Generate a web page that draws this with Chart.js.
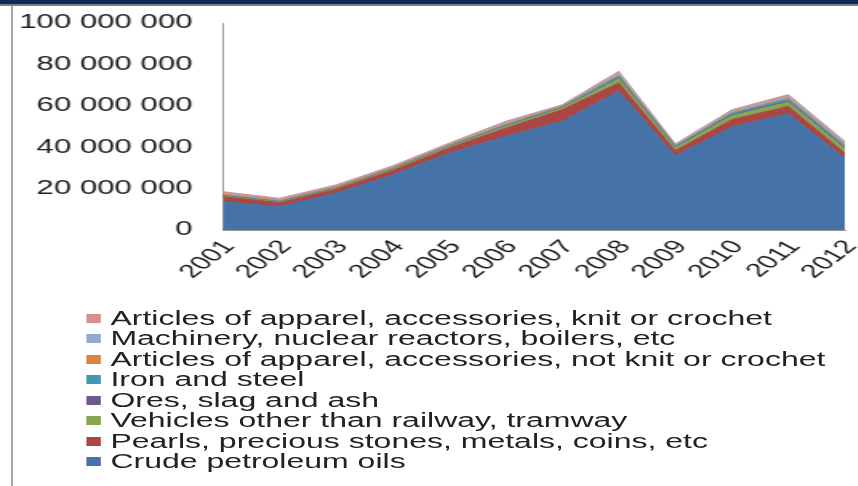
<!DOCTYPE html>
<html>
<head>
<meta charset="utf-8">
<script src="https://cdn.jsdelivr.net/npm/chart.js@4"></script>
<style>
  html, body { margin: 0; padding: 0; background: #fff; }
  body { width: 858px; height: 486px; position: relative; overflow: hidden;
         font-family: "Liberation Sans", Arial, sans-serif; }
  #barraTopo { position: absolute; left: 0; top: 0; width: 858px; height: 4px; background: #0c2a5c; }
  #linhaTopo { position: absolute; left: 0; top: 4px; width: 858px; height: 2px; background: #7d7d7d; }
  #linhaEsq { position: absolute; left: 11px; top: 6px; width: 2px; height: 480px; background: #a6a6a6; }
  /* the whole chart is drawn narrow and stretched sideways */
  #esticado { position: absolute; left: 0; top: 0; width: 536.25px; height: 486px;
              transform: scaleX(1.6); transform-origin: 0 0; }
  #grafico { position: absolute; left: 0; top: 0; }
  #legenda { position: absolute; left: 54px; top: 308px; font-size: 20px; color: #222; }
  .item { display: flex; align-items: center; height: 20.5px; white-space: nowrap; }
  .caixa { width: 9.4px; height: 9px; margin-right: 5.6px; flex: none; }
</style>
</head>
<body>
<div id="barraTopo"></div>
<div id="linhaTopo"></div>
<div id="linhaEsq"></div>
<div id="esticado">
  <canvas id="grafico" width="536" height="290" style="width:536px;height:290px"></canvas>
  <div id="legenda"></div>
</div>
<script>
const anos = ["2001", "2002", "2003", "2004", "2005", "2006", "2007", "2008", "2009", "2010", "2011", "2012"];

const petroleo = [13700000, 11300000, 17800000, 26600000, 37100000, 45200000, 52500000, 67000000, 35800000, 49700000, 56200000, 34700000];
const perolas = [2400000, 1900000, 1900000, 2100000, 2500000, 4000000, 5600000, 4000000, 2500000, 3600000, 3500000, 2400000];
const veiculos = [300000, 300000, 400000, 500000, 600000, 800000, 800000, 2000000, 1300000, 1900000, 2000000, 2000000];
const minerios = [100000, 100000, 100000, 100000, 100000, 200000, 200000, 400000, 300000, 400000, 500000, 500000];
const ferroAco = [300000, 300000, 300000, 400000, 400000, 500000, 400000, 1000000, 500000, 800000, 1000000, 1000000];
const vestuarioNaoMalha = [500000, 400000, 400000, 400000, 400000, 500000, 300000, 500000, 300000, 400000, 500000, 500000];
const maquinas = [300000, 300000, 300000, 300000, 300000, 500000, 300000, 800000, 400000, 600000, 800000, 800000];
const vestuarioMalha = [900000, 700000, 600000, 600000, 600000, 800000, 400000, 1000000, 500000, 700000, 900000, 900000];

const ticksY = [0, 20000000, 40000000, 60000000, 80000000, 100000000];

function formatarMilhar(v) {
  return String(v).replace(/\B(?=(\d{3})+(?!\d))/g, " ");
}

// from the bottom of the stack to the top
const series = [
  { label: "Crude petroleum oils", data: petroleo, cor: "#4572A7" },
  { label: "Pearls, precious stones, metals, coins, etc", data: perolas, cor: "#AA4643" },
  { label: "Vehicles other than railway, tramway", data: veiculos, cor: "#89A54E" },
  { label: "Ores, slag and ash", data: minerios, cor: "#71588F" },
  { label: "Iron and steel", data: ferroAco, cor: "#4198AF" },
  { label: "Articles of apparel, accessories, not knit or crochet", data: vestuarioNaoMalha, cor: "#DB843D" },
  { label: "Machinery, nuclear reactors, boilers, etc", data: maquinas, cor: "#93A9CF" },
  { label: "Articles of apparel, accessories, knit or crochet", data: vestuarioMalha, cor: "#D19392" }
];

const grafico = new Chart(document.getElementById("grafico"), {
  type: "line",
  data: {
    labels: anos,
    datasets: series.map((s, i) => ({
      label: s.label,
      data: s.data,
      borderColor: s.cor,
      backgroundColor: s.cor,
      borderWidth: 1,
      pointRadius: 0,
      tension: 0,
      fill: i === 0 ? "origin" : "-1"
    }))
  },
  options: {
    responsive: false,
    animation: false,
    layout: { padding: { top: 23, right: 8, left: 0, bottom: 0 } },
    plugins: {
      legend: { display: false },
      tooltip: { enabled: false }
    },
    scales: {
      x: {
        offset: false,
        grid: { display: false, drawTicks: false, tickLength: 0 },
        border: { display: true, color: "#9a9a9a", width: 1 },
        ticks: {
          autoSkip: false,
          minRotation: 50,
          maxRotation: 50,
          padding: 6,
          labelOffset: 4,
          color: "#1c1c1c",
          font: { family: "Liberation Sans", size: 19 }
        },
        afterFit: (eixo) => {
          eixo.height = 60;
          eixo.paddingLeft = 0;
          eixo.paddingRight = 0;
        }
      },
      y: {
        stacked: true,
        min: 0,
        max: 100000000,
        grid: { display: false, drawTicks: false, tickLength: 0 },
        border: { display: true, color: "#9a9a9a", width: 1 },
        afterBuildTicks: (eixo) => { eixo.ticks = ticksY.map(v => ({ value: v })); },
        ticks: {
          padding: 19,
          color: "#1c1c1c",
          font: { family: "Liberation Sans", size: 19.5 },
          callback: (v) => formatarMilhar(v)
        },
        afterFit: (eixo) => {
          eixo.width = 139.4;
          eixo.paddingTop = 0;
          eixo.paddingBottom = 0;
        }
      }
    }
  }
});

// legend, top series first
const legenda = document.getElementById("legenda");
grafico.data.datasets.slice().reverse().forEach(ds => {
  const item = document.createElement("div");
  item.className = "item";
  const caixa = document.createElement("span");
  caixa.className = "caixa";
  caixa.style.background = ds.backgroundColor;
  const texto = document.createElement("span");
  texto.textContent = ds.label;
  item.appendChild(caixa);
  item.appendChild(texto);
  legenda.appendChild(item);
});
</script>
</body>
</html>
